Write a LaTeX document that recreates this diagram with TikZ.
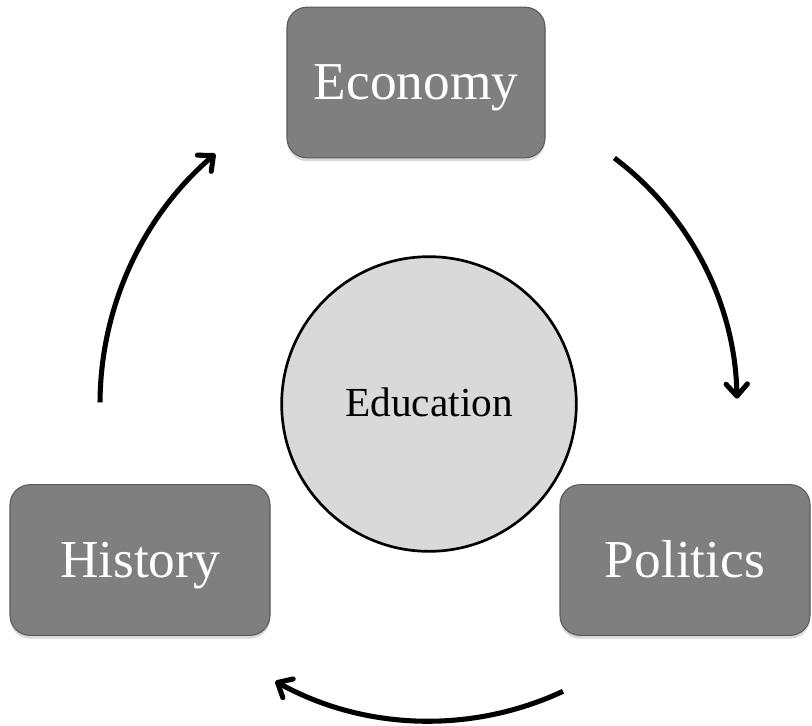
\documentclass[tikz,border=0pt]{standalone}
\usepackage{fontspec}
\setmainfont{Liberation Serif}
\usepackage{tikz}
\usepackage{xcolor}
\usetikzlibrary{arrows.meta,shadows}

\definecolor{boxgray}{HTML}{7F7F7F}
\definecolor{boxline}{HTML}{5A5A5A}
\definecolor{hubgray}{HTML}{D9D9D9}

\tikzset{
  topic/.style={draw=boxline, line width=0.8pt, fill=boxgray, rounded corners=15pt,
    text=white, font=\fontsize{40}{44}\selectfont, inner sep=0pt,
    minimum height=113pt, text height=28pt, text depth=2pt,
    drop shadow={shadow xshift=0pt, shadow yshift=-2.5pt, opacity=0.3}},
  hub/.style={circle, draw=black, line width=2pt, fill=hubgray, minimum size=221pt,
    inner sep=0pt, font=\fontsize{31}{35}\selectfont, text height=19.5pt, text depth=1.5pt},
  cyc/.style={line width=3.8pt, -{Straight Barb[length=9pt,width=16pt,line join=round,line cap=round]}}
}

\begin{document}
\begin{tikzpicture}[x=0.75pt,y=0.75pt,yscale=-1,xscale=1]
\useasboundingbox (0,0) rectangle (812,725);

\node[hub] (edu) at (429,404) {Education};

\node[topic, minimum width=193.5pt] (eco) at (416,82.5) {Economy};
\node[topic, minimum width=195pt] (his) at (140,560) {History};
\node[topic, minimum width=187.5pt] (pol) at (685,560) {Politics};

% cycle arrows round the hub
\draw[cyc] (edu.center) ++(-53:308) arc[start angle=-53, end angle=-1, radius=308];
\draw[cyc] (edu.center) ++(65:317) arc[start angle=65, end angle=119, radius=317];
\draw[cyc] (edu.center) ++(180.3:329) arc[start angle=180.3, end angle=229.5, radius=329];
\end{tikzpicture}
\end{document}
